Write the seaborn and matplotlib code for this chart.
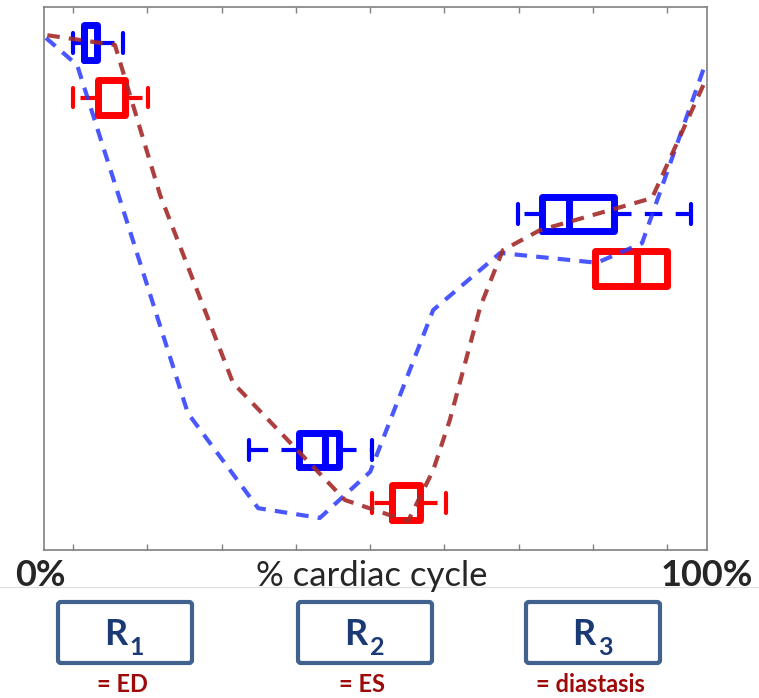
import matplotlib
matplotlib.use("Agg")
import matplotlib.pyplot as plt
from matplotlib.patches import FancyBboxPatch
from matplotlib.lines import Line2D
import seaborn as sns
import numpy as np
import pandas as pd

# mean curves (x = % cardiac cycle, y = arbitrary units)
blue_x = [0.3, 5.0, 21.7, 32.3, 41.6, 49.2, 58.7, 68.8, 83.4, 90.2, 99.8]
blue_y = [94.3, 89.3, 25.2, 7.7, 5.9, 14.4, 44.2, 54.7, 52.9, 56.5, 89.7]
red_x = [0.5, 10.7, 17.5, 28.5, 45.4, 54.9, 58.7, 61.2, 65.8, 69.2, 74.8, 91.7, 100.0]
red_y = [94.8, 93.0, 65.4, 30.8, 9.2, 5.3, 14.7, 23.9, 44.8, 55.2, 58.9, 64.8, 87.1]

# box summaries for R1, R2, R3 (whisker low, q1, median, q3, whisker high, level)
blue_whislo = [4.4, 30.9, 71.5]
blue_q1 = [6.0, 38.5, 75.1]
blue_med = [6.0, 42.4, 79.2]
blue_q3 = [8.0, 44.5, 86.0]
blue_whishi = [11.9, 49.5, 97.6]
blue_pos = [93.4, 18.4, 61.9]

red_whislo = [4.4, 49.5, 83.1]
red_q1 = [8.2, 52.5, 83.1]
red_med = [8.2, 52.5, 89.4]
red_q3 = [12.2, 56.7, 94.0]
red_whishi = [15.7, 60.6, 94.0]
red_pos = [83.3, 8.7, 51.9]

regions = ["R", "R", "R"]
region_sub = ["1", "2", "3"]
region_names = ["= ED", "= ES", "= diastasis"]

W, H = 759, 698
sns.set_style("white")
plt.rcParams["font.family"] = ["Lato", "DejaVu Sans"]

fig = plt.figure(figsize=(W / 100, H / 100), dpi=100)
ax = fig.add_axes([44 / W, 1 - 550 / H, 663 / W, 543 / H])


def draw_boxes(ax, whislo, q1, med, q3, whishi, pos, color):
    stats = []
    for a, b, c, d, e in zip(whislo, q1, med, q3, whishi):
        stats.append(dict(whislo=a, q1=b, med=c, q3=d, whishi=e))
    ax.bxp(stats, positions=pos, widths=6.4, capwidths=3.6,
           orientation="horizontal", showfliers=False, manage_ticks=False,
           boxprops=dict(color=color, linewidth=5, solid_joinstyle="round"),
           medianprops=dict(color=color, linewidth=5),
           whiskerprops=dict(color=color, linewidth=3, linestyle=(0, (4.2, 3.2))),
           capprops=dict(color=color, linewidth=3))


draw_boxes(ax, blue_whislo, blue_q1, blue_med, blue_q3, blue_whishi, blue_pos, "#0000ff")
draw_boxes(ax, red_whislo, red_q1, red_med, red_q3, red_whishi, red_pos, "#ff0000")

df_b = pd.DataFrame({"x": blue_x, "y": blue_y})
df_r = pd.DataFrame({"x": red_x, "y": red_y})
sns.lineplot(data=df_b, x="x", y="y", sort=False, estimator=None, ax=ax,
             color="#2a3aff", alpha=0.85, linewidth=3, linestyle=(0, (3, 2.2)), zorder=5)
sns.lineplot(data=df_r, x="x", y="y", sort=False, estimator=None, ax=ax,
             color="#a52a2a", alpha=0.9, linewidth=3, linestyle=(0, (3, 2.2)), zorder=5)

ax.set_xlim(0, 100)
ax.set_ylim(0, 100)
ax.set_xticks(np.linspace(4.4, 94.0, 9))
ax.set_yticks([])
ax.set_xlabel("")
ax.set_ylabel("")
ax.tick_params(axis="x", direction="in", length=4, width=1, color="#808080",
               top=True, bottom=True, labelbottom=False)
for s in ax.spines.values():
    s.set_color("#808080")
    s.set_linewidth(1.2)


def fx(px):
    return px / W


def fy(py):
    return 1 - py / H


# axis labels under the plot
fig.text(fx(40), fy(586), "0%", ha="center", va="baseline", fontsize=26, fontweight="bold")
fig.text(fx(707), fy(586), "100%", ha="center", va="baseline", fontsize=26, fontweight="bold")
fig.text(fx(372), fy(586), "% cardiac cycle", ha="center", va="baseline", fontsize=25)
fig.add_artist(Line2D([0, 1], [fy(587), fy(587)], color="#dddddd", linewidth=0.8,
                      transform=fig.transFigure, zorder=0))

# region boxes
box_left = [58, 298, 526]
box_w = 134
for i in range(3):
    x0 = box_left[i]
    rect = FancyBboxPatch((fx(x0), fy(663)), box_w / W, 61 / H,
                          boxstyle="round,pad=0,rounding_size=0.004",
                          transform=fig.transFigure, facecolor="white",
                          edgecolor="#41618f", linewidth=3)
    fig.add_artist(rect)
    cx = x0 + box_w / 2
    fig.text(fx(cx - 9), fy(645), regions[i], ha="center", va="baseline",
             fontsize=26, fontweight="bold", color="#1b3a75")
    fig.text(fx(cx + 12), fy(655), region_sub[i], ha="center", va="baseline",
             fontsize=18, fontweight="bold", color="#1b3a75")
    fig.text(fx(cx - 3), fy(692), region_names[i], ha="center", va="baseline",
             fontsize=17, fontweight="bold", color="#9c0a0a")

fig.savefig("out.png", dpi=100)
